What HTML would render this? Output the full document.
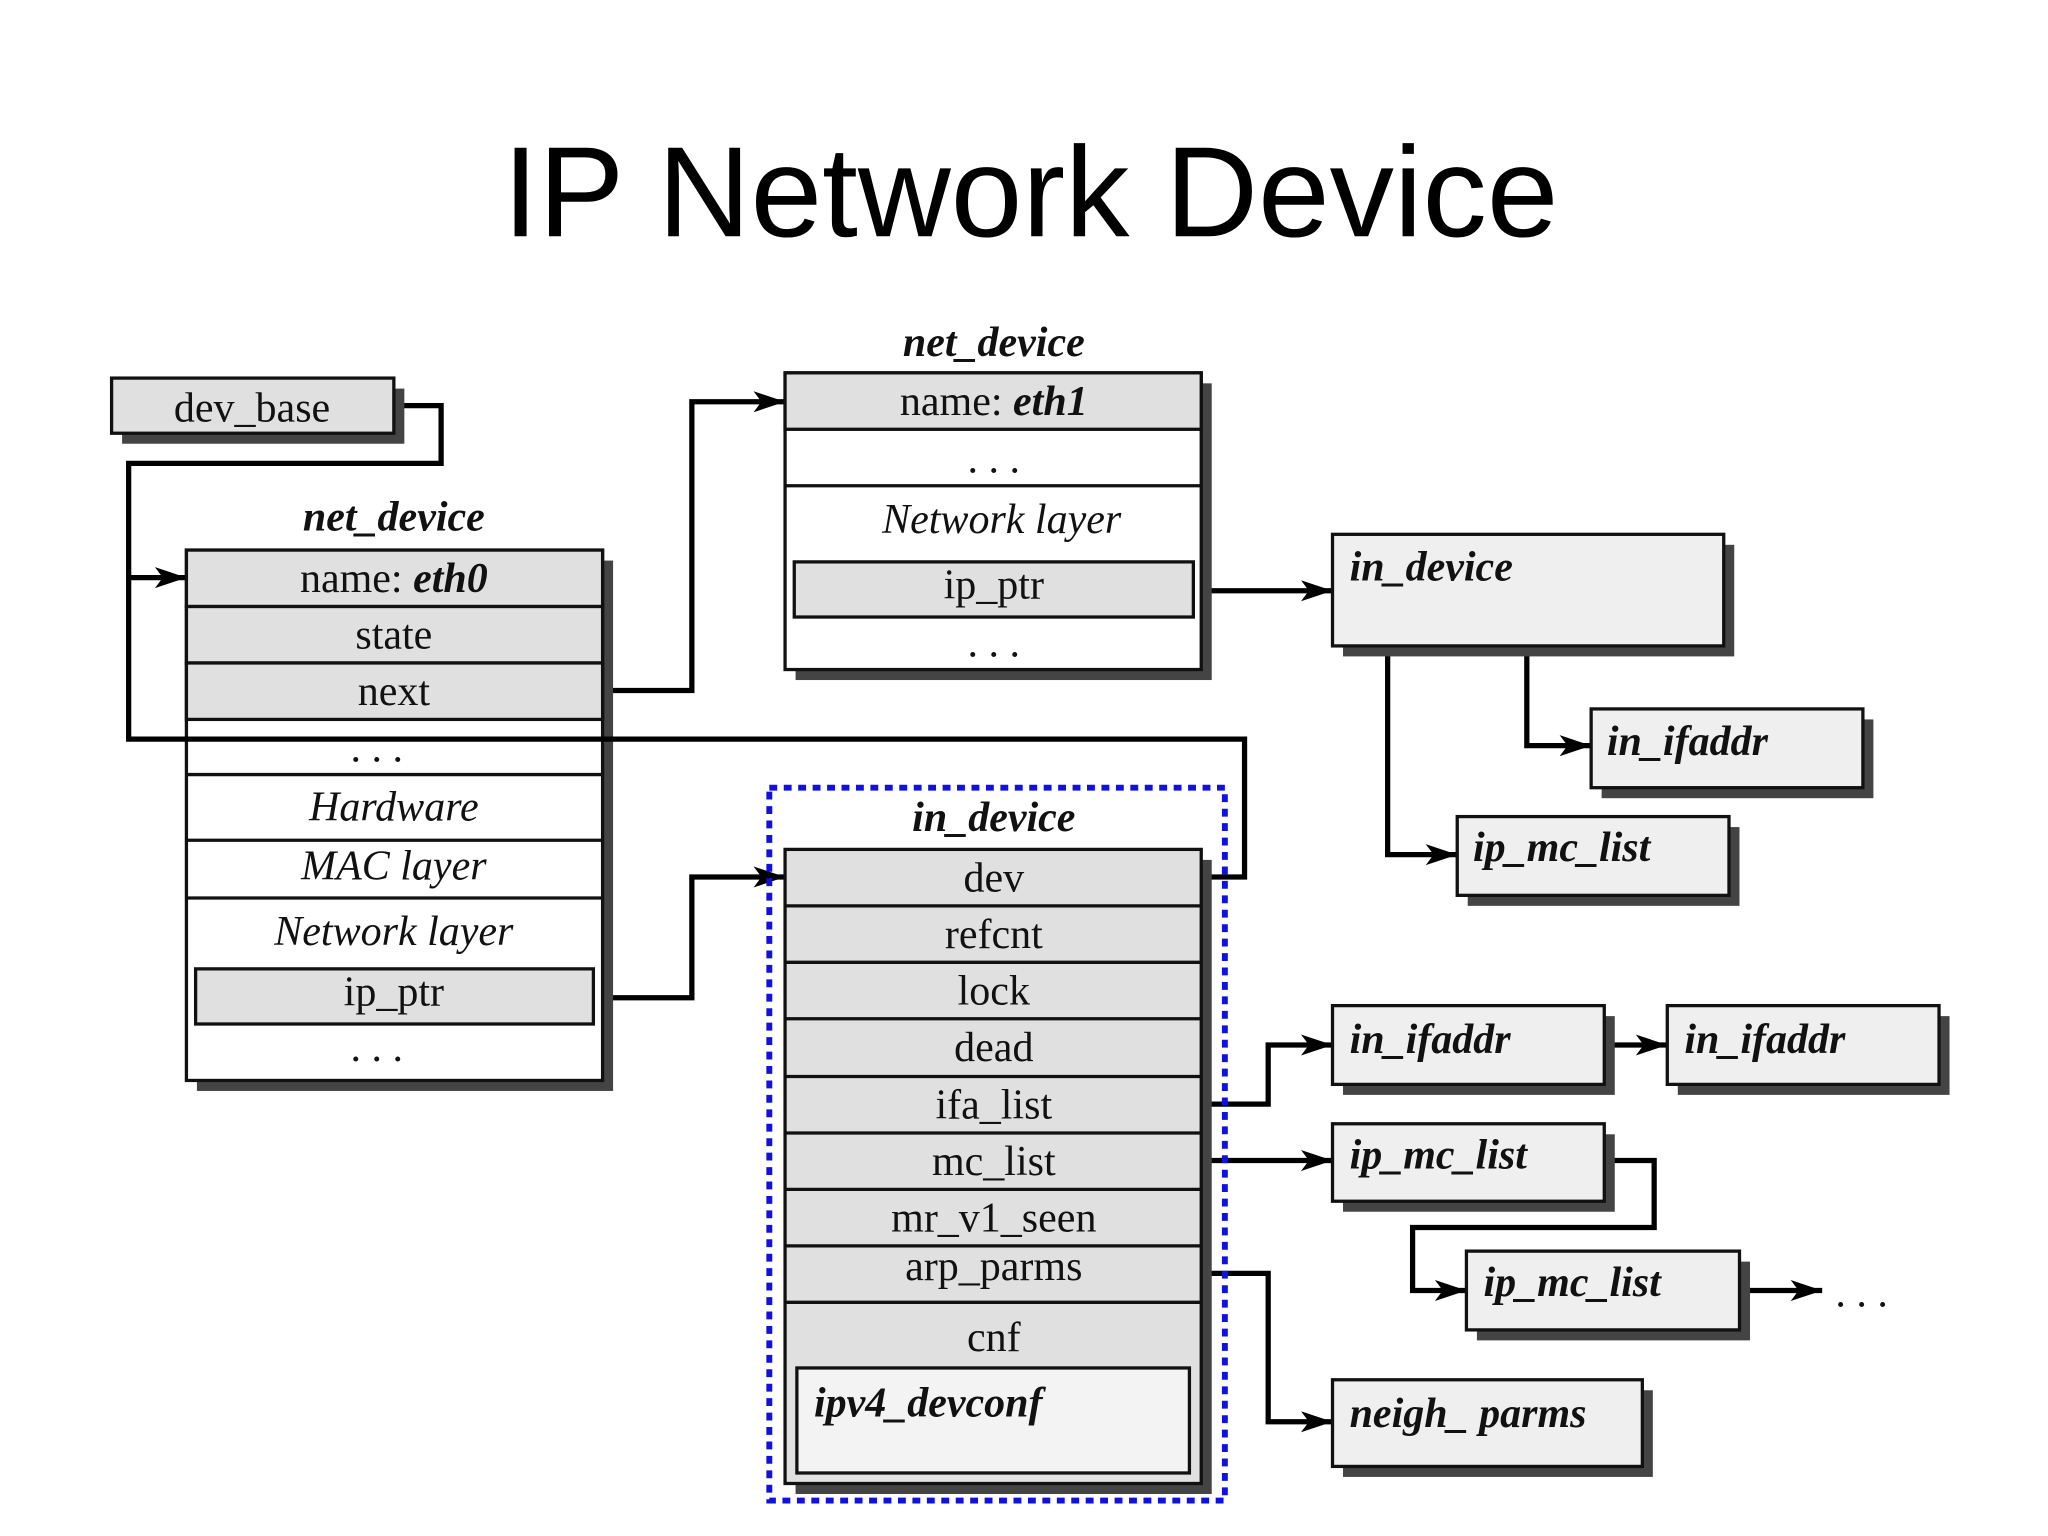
<!DOCTYPE html>
<html><head><meta charset="utf-8"><style>
html,body{margin:0;padding:0;background:#fff;width:2048px;height:1536px;overflow:hidden}
svg{display:block}
.t{font-family:"Liberation Serif",serif;font-size:32px;fill:#111}
.bi{font-family:"Liberation Serif",serif;font-size:32px;font-weight:bold;font-style:italic;fill:#111}
.i{font-family:"Liberation Serif",serif;font-size:32px;font-style:italic;fill:#111}
.b{stroke:#111;stroke-width:2.5}
.ln{fill:none;stroke:#000;stroke-width:4}
</style></head><body>
<svg width="2048" height="1536" viewBox="0 0 1560 1170" xmlns="http://www.w3.org/2000/svg">
<defs>
<marker id="ar" viewBox="0 0 24 16" refX="24" refY="8" markerWidth="24" markerHeight="16" markerUnits="userSpaceOnUse" orient="auto"><path d="M0,0 L24,8 L0,16 L6,8 z" fill="#000"/></marker></defs>
<text x="785" y="180" text-anchor="middle" font-family="Liberation Sans, sans-serif" font-size="98" fill="#000">IP Network Device</text>

<!-- connectors -->
<polyline class="ln" points="300,309 336,309 336,353 98,353 98,563"/>
<line class="ln" x1="98" y1="440" x2="142" y2="440" marker-end="url(#ar)"/>
<polyline class="ln" points="459,526 527,526 527,306 598,306" marker-end="url(#ar)"/>
<polyline class="ln" points="452,760 527,760 527,668 598,668" marker-end="url(#ar)"/>
<polyline class="ln" points="909,450 1015,450" marker-end="url(#ar)"/>
<polyline class="ln" points="1163,492 1163,568 1212,568" marker-end="url(#ar)"/>
<polyline class="ln" points="1057,492 1057,651 1110,651" marker-end="url(#ar)"/>
<polyline class="ln" points="915,841 966,841 966,796 1015,796" marker-end="url(#ar)"/>
<polyline class="ln" points="1222,796 1270,796" marker-end="url(#ar)"/>
<polyline class="ln" points="915,884 1015,884" marker-end="url(#ar)"/>
<polyline class="ln" points="1222,884 1260,884 1260,935 1076,935 1076,983 1117,983" marker-end="url(#ar)"/>
<polyline class="ln" points="1325,983 1388,983" marker-end="url(#ar)"/>
<polyline class="ln" points="915,970 966,970 966,1083 1015,1083" marker-end="url(#ar)"/>
<text x="1418" y="995" class="t" text-anchor="middle">. . .</text>

<!-- dev_base -->
<rect x="93" y="296" width="215" height="42" fill="#444"/>
<rect x="85" y="288" width="215" height="42" fill="#e0e0e0" class="b"/>
<text x="192" y="321" class="t" text-anchor="middle">dev_base</text>

<!-- net_device eth0 -->
<text x="300" y="404" class="bi" text-anchor="middle">net_device</text>
<rect x="150" y="427" width="317" height="404" fill="#444"/>
<rect x="142" y="419" width="317" height="404" fill="#fff" class="b"/>
<rect x="142" y="419" width="317" height="43" fill="#e0e0e0" class="b"/>
<rect x="142" y="462" width="317" height="43" fill="#e0e0e0" class="b"/>
<rect x="142" y="505" width="317" height="43" fill="#e0e0e0" class="b"/>
<line x1="142" y1="590" x2="459" y2="590" class="b"/>
<line x1="142" y1="640" x2="459" y2="640" class="b"/>
<line x1="142" y1="684" x2="459" y2="684" class="b"/>
<rect x="149" y="738" width="303" height="42" fill="#e0e0e0" class="b"/>
<text x="300" y="451" class="t" text-anchor="middle">name: <tspan class="bi">eth0</tspan></text>
<text x="300" y="494" class="t" text-anchor="middle">state</text>
<text x="300" y="537" class="t" text-anchor="middle">next</text>
<text x="287" y="580" class="t" text-anchor="middle">. . .</text>
<text x="300" y="625" class="i" text-anchor="middle">Hardware</text>
<text x="300" y="670" class="i" text-anchor="middle">MAC layer</text>
<text x="300" y="720" class="i" text-anchor="middle">Network layer</text>
<text x="300" y="766" class="t" text-anchor="middle">ip_ptr</text>
<text x="287" y="808" class="t" text-anchor="middle">. . .</text>
<polyline class="ln" points="96,563 948,563 948,668 915,668"/>

<!-- net_device eth1 -->
<text x="757" y="271" class="bi" text-anchor="middle">net_device</text>
<rect x="606" y="292" width="317" height="226" fill="#444"/>
<rect x="598" y="284" width="317" height="226" fill="#fff" class="b"/>
<rect x="598" y="284" width="317" height="43" fill="#e0e0e0" class="b"/>
<line x1="598" y1="370" x2="915" y2="370" class="b"/>
<rect x="605" y="428" width="304" height="42" fill="#e0e0e0" class="b"/>
<text x="757" y="316" class="t" text-anchor="middle">name: <tspan class="bi">eth1</tspan></text>
<text x="757" y="360" class="t" text-anchor="middle">. . .</text>
<text x="763" y="406" class="i" text-anchor="middle">Network layer</text>
<text x="757" y="456" class="t" text-anchor="middle">ip_ptr</text>
<text x="757" y="500" class="t" text-anchor="middle">. . .</text>

<!-- right boxes -->
<g>
<rect x="1023" y="415" width="298" height="85" fill="#444"/>
<rect x="1015" y="407" width="298" height="85" fill="#efefef" class="b"/>
<text x="1028" y="442" class="bi">in_device</text>
<rect x="1220" y="548" width="207" height="60" fill="#444"/>
<rect x="1212" y="540" width="207" height="60" fill="#efefef" class="b"/>
<text x="1224" y="575" class="bi">in_ifaddr</text>
<rect x="1118" y="630" width="207" height="60" fill="#444"/>
<rect x="1110" y="622" width="207" height="60" fill="#efefef" class="b"/>
<text x="1122" y="656" class="bi">ip_mc_list</text>
<rect x="1023" y="774" width="207" height="60" fill="#444"/>
<rect x="1015" y="766" width="207" height="60" fill="#efefef" class="b"/>
<text x="1028" y="802" class="bi">in_ifaddr</text>
<rect x="1278" y="774" width="207" height="60" fill="#444"/>
<rect x="1270" y="766" width="207" height="60" fill="#efefef" class="b"/>
<text x="1283" y="802" class="bi">in_ifaddr</text>
<rect x="1023" y="864" width="207" height="59" fill="#444"/>
<rect x="1015" y="856" width="207" height="59" fill="#efefef" class="b"/>
<text x="1028" y="890" class="bi">ip_mc_list</text>
<rect x="1125" y="961" width="208" height="60" fill="#444"/>
<rect x="1117" y="953" width="208" height="60" fill="#efefef" class="b"/>
<text x="1130" y="987" class="bi">ip_mc_list</text>
<rect x="1023" y="1059" width="236" height="66" fill="#444"/>
<rect x="1015" y="1051" width="236" height="66" fill="#efefef" class="b"/>
<text x="1028" y="1087" class="bi">neigh_ parms</text>
</g>

<!-- in_device center -->
<rect x="586" y="600" width="347" height="543" fill="none" stroke="#1010e0" stroke-width="4.5" stroke-dasharray="6,5"/>
<text x="757" y="633" class="bi" text-anchor="middle">in_device</text>
<rect x="606" y="655" width="317" height="483" fill="#444"/>
<rect x="598" y="647" width="317" height="483" fill="#e0e0e0" class="b"/>
<g class="b">
<line x1="598" y1="690" x2="915" y2="690"/><line x1="598" y1="733" x2="915" y2="733"/>
<line x1="598" y1="776" x2="915" y2="776"/><line x1="598" y1="820" x2="915" y2="820"/>
<line x1="598" y1="863" x2="915" y2="863"/><line x1="598" y1="906" x2="915" y2="906"/>
<line x1="598" y1="949" x2="915" y2="949"/><line x1="598" y1="992" x2="915" y2="992"/>
</g>
<text x="757" y="679" class="t" text-anchor="middle">dev</text>
<text x="757" y="722" class="t" text-anchor="middle">refcnt</text>
<text x="757" y="765" class="t" text-anchor="middle">lock</text>
<text x="757" y="808" class="t" text-anchor="middle">dead</text>
<text x="757" y="852" class="t" text-anchor="middle">ifa_list</text>
<text x="757" y="895" class="t" text-anchor="middle">mc_list</text>
<text x="757" y="938" class="t" text-anchor="middle">mr_v1_seen</text>
<text x="757" y="975" class="t" text-anchor="middle">arp_parms</text>
<text x="757" y="1029" class="t" text-anchor="middle">cnf</text>
<rect x="607" y="1042" width="299" height="80" fill="#f3f3f3" class="b"/>
<text x="620" y="1079" class="bi">ipv4_devconf</text>
</svg>
</body></html>
